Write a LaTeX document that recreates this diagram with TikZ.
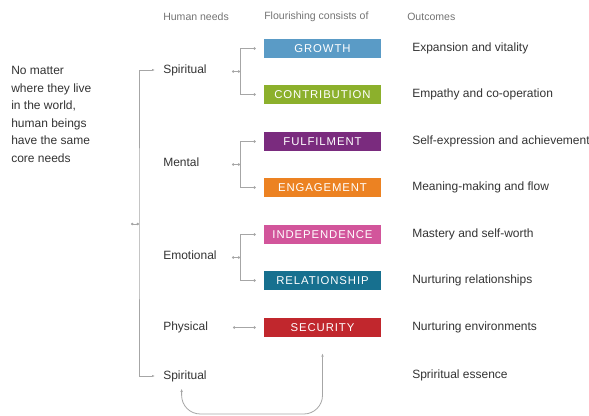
\documentclass[tikz,border=0pt]{standalone}
\usepackage{fontspec}
\setmainfont{Liberation Sans}
\usetikzlibrary{arrows.meta}
\definecolor{growthblue}{HTML}{5A9BC6}
\definecolor{contribgreen}{HTML}{8CB02C}
\definecolor{fulfilpurple}{HTML}{7A2B7E}
\definecolor{engageorange}{HTML}{EC8222}
\definecolor{indeppink}{HTML}{D2559B}
\definecolor{relateteal}{HTML}{17708F}
\definecolor{securered}{HTML}{C1272D}
\begin{document}
\begin{tikzpicture}[x=0.75pt, y=-0.75pt,
    conn/.style={draw=black!35, line width=0.6pt},
    dots/.style={{Circle[length=1.8pt]}-{Circle[length=1.8pt]}},
    need/.style={anchor=west, inner sep=0pt, text=black!80,
        font=\fontsize{9}{13.2}\selectfont},
    head/.style={anchor=west, inner sep=0pt, text=black!55,
        font=\fontsize{7.9}{9}\selectfont},
    flourish/.style={fill=#1, minimum width=87.75pt, minimum height=14.25pt,
        inner sep=0pt, text=white,
        font=\fontsize{8.5}{10}\selectfont\addfontfeature{LetterSpace=8}}]
    \useasboundingbox (0,0) rectangle (589,416);
    % column heads
    \node[head] (hneeds) at (163,17) {Human needs};
    \node[head] (hflour) at (264,17) {Flourishing consists of};
    \node[head] (hout) at (407,17) {Outcomes};
    \node[need, align=left] (intro) at (11,114.5)
        {No matter\\where they live\\in the world,\\human beings\\have the same\\core needs};
    % human needs
    \node[need] (spirit) at (163,70) {Spiritual};
    \node[need] (mental) at (163,162) {Mental};
    \node[need] (emotion) at (163,255) {Emotional};
    \node[need] (physic) at (163,327) {Physical};
    \node[need] (essence) at (163,376) {Spiritual};
    % flourishing
    \node[flourish=growthblue] (growth) at (322.5,48.5) {GROWTH};
    \node[flourish=contribgreen] (contrib) at (322.5,94.5) {CONTRIBUTION};
    \node[flourish=fulfilpurple] (fulfil) at (322.5,141.5) {FULFILMENT};
    \node[flourish=engageorange] (engage) at (322.5,187.5) {ENGAGEMENT};
    \node[flourish=indeppink] (indep) at (322.5,234.5) {INDEPENDENCE};
    \node[flourish=relateteal] (relate) at (322.5,280.5) {RELATIONSHIP};
    \node[flourish=securered] (secure) at (322.5,327.5) {SECURITY};
    % outcomes
    \node[need] (ogrowth) at (412,48.5) {Expansion and vitality};
    \node[need] (ocontrib) at (412,94.5) {Empathy and co-operation};
    \node[need] (ofulfil) at (412,141.5) {Self-expression and achievement};
    \node[need] (oengage) at (412,187.5) {Meaning-making and flow};
    \node[need] (oindep) at (412,234.5) {Mastery and self-worth};
    \node[need] (orelate) at (412,280.5) {Nurturing relationships};
    \node[need] (osecure) at (412,327.5) {Nurturing environments};
    \node[need] (oessence) at (412,375) {Spriritual essence};
    % junctions
    \coordinate (hubl) at (131,224);
    \coordinate (hub) at (139,224);
    \coordinate (jspa) at (232,71.5);
    \coordinate (jsp) at (240,71.5);
    \coordinate (jmea) at (232,164.5);
    \coordinate (jme) at (240,164.5);
    \coordinate (jema) at (232,257.5);
    \coordinate (jem) at (240,257.5);
    \coordinate (jph) at (233,327.5);
    \coordinate (bot) at (250,414);
    % connectors
    \draw[conn, dots] (hubl) -- (hub);
    \draw[conn, {Latex[length=2.2pt]}-{Latex[length=2.2pt]}, shorten <=6pt, shorten >=6pt]
        (spirit.west) -| (hub) |- (essence.west);
    \draw[conn, dots] (jspa) -- (jsp);
    \draw[conn, dots] (jmea) -- (jme);
    \draw[conn, dots] (jema) -- (jem);
    \draw[conn, -{Circle[length=1.8pt]}, shorten >=6pt] (jsp) |- (growth.west);
    \draw[conn, -{Circle[length=1.8pt]}, shorten >=6pt] (jsp) |- (contrib.west);
    \draw[conn, -{Circle[length=1.8pt]}, shorten >=6pt] (jme) |- (fulfil.west);
    \draw[conn, -{Circle[length=1.8pt]}, shorten >=6pt] (jme) |- (engage.west);
    \draw[conn, -{Circle[length=1.8pt]}, shorten >=6pt] (jem) |- (indep.west);
    \draw[conn, -{Circle[length=1.8pt]}, shorten >=6pt] (jem) |- (relate.west);
    \draw[conn, dots, shorten >=6pt] (jph) -- (secure.west);
    \draw[conn, {Latex[length=2.5pt]}-{Latex[length=2.5pt]}, rounded corners=14pt,
        shorten <=5pt, shorten >=12pt]
        ([xshift=-2.5pt]essence.south) |- (bot) -| (secure.south);
\end{tikzpicture}
\end{document}
